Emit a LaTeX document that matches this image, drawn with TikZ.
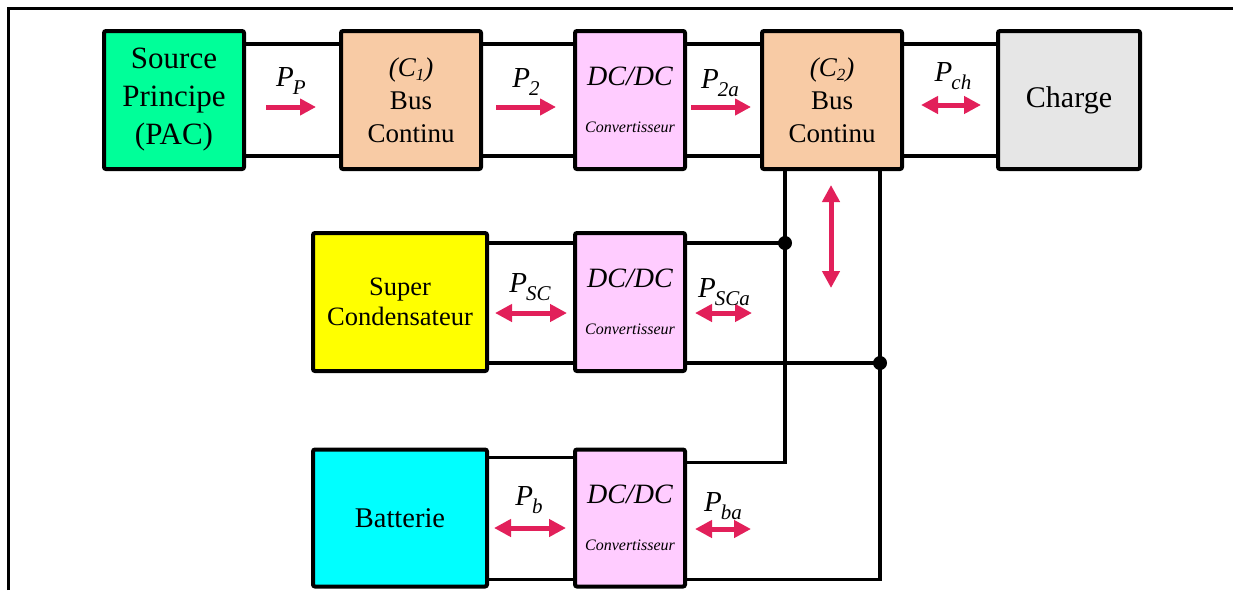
\documentclass[tikz,border=0pt]{standalone}
\usepackage{fontspec}
\setmainfont{Liberation Serif}
\usetikzlibrary{arrows.meta}
\definecolor{pacgreen}{RGB}{0,255,153}
\definecolor{buspeach}{RGB}{248,203,165}
\definecolor{convpink}{RGB}{255,204,255}
\definecolor{loadgray}{RGB}{230,230,230}
\definecolor{scyellow}{RGB}{255,255,0}
\definecolor{batcyan}{RGB}{0,255,255}
\definecolor{flowred}{RGB}{226,32,90}
\newcommand{\pflow}[2]{{\fontsize{29}{29}\selectfont\itshape #1}\kern-1pt\raisebox{-8pt}{\fontsize{21}{21}\selectfont\itshape #2}}
\newcommand{\busname}[1]{{\itshape (C\raisebox{-4pt}{\fontsize{17}{17}\selectfont #1})}}
\tikzset{
  blk/.style={draw, line width=4pt, rounded corners=2pt, minimum width=140pt, minimum height=138pt, align=center, inner sep=0pt},
  busblk/.style={blk, fill=buspeach, font=\fontsize{27}{33}\selectfont},
  convblk/.style={blk, fill=convpink, minimum width=110pt, font=\itshape\fontsize{28}{30}\selectfont},
  wire/.style={line width=3.5pt},
  flow/.style={flowred, line width=5pt, -{Triangle[length=16pt,width=16pt]}},
  bflow/.style={flowred, line width=5pt, {Triangle[length=17pt,width=17pt]}-{Triangle[length=17pt,width=17pt]}},
}
\begin{document}
\begin{tikzpicture}[x=1pt, y=-1pt]
  \useasboundingbox (0,0) rectangle (1233,590);
  \draw[line width=3pt] (8,590) -- (8,8) -- (1233,8);

  % top chain
  \node[blk, fill=pacgreen, font=\fontsize{31}{38}\selectfont] (src) at (174,100) {Source\\Principe\\(PAC)};
  \node[busblk] (c1) at (411,100) {\busname{1}\\Bus\\Continu};
  \node[convblk] (dc1) at (630,100) {DC/DC\\[17pt]{\fontsize{16}{16}\selectfont Convertisseur}};
  \node[busblk] (c2) at (832,100) {\busname{2}\\Bus\\Continu};
  \node[blk, fill=loadgray, minimum width=142pt, font=\fontsize{30}{31}\selectfont] (chg) at (1069,100) {Charge};

  % storage
  \node[blk, fill=scyellow, minimum width=174pt, font=\fontsize{26.5}{30}\selectfont] (sc) at (400,302) {Super\\Condensateur};
  \node[convblk] (dc2) at (630,302) {DC/DC\\[17pt]{\fontsize{16}{16}\selectfont Convertisseur}};
  \node[blk, fill=batcyan, minimum width=174pt, minimum height=137pt, font=\fontsize{28.5}{31}\selectfont] (bat) at (400,518) {Batterie};
  \node[convblk, minimum height=137pt] (dc3) at (630,518) {DC/DC\\[17pt]{\fontsize{16}{16}\selectfont Convertisseur}};

  \foreach \a/\b in {src/c1, c1/dc1, dc1/c2, c2/chg} {
    \draw[wire] ([yshift=-15pt]\a.north east) -- ([yshift=-15pt]\b.north west);
    \draw[wire] ([yshift=15pt]\a.south east) -- ([yshift=15pt]\b.south west);
  }
  \draw[wire] ([yshift=-12pt]sc.north east) -- ([yshift=-12pt]dc2.north west);
  \draw[wire] ([yshift=10pt]sc.south east) -- ([yshift=10pt]dc2.south west);
  \draw[wire] ([yshift=-10pt]bat.north east) -- ([yshift=-10pt]dc3.north west);
  \draw[wire] ([yshift=9pt]bat.south east) -- ([yshift=9pt]dc3.south west);

  % bus C2
  \coordinate (busL) at ([xshift=25pt]c2.south west);
  \coordinate (busR) at ([xshift=-24pt]c2.south east);
  \coordinate (d2t) at ([yshift=-12pt]dc2.north east);
  \coordinate (d2b) at ([yshift=10pt]dc2.south east);
  \coordinate (d3t) at ([yshift=-15pt]dc3.north east);
  \coordinate (d3b) at ([yshift=9pt]dc3.south east);
  \draw[wire] (d2t) -- (busL |- d2t);
  \draw[wire] (d2b) -- (busR |- d2b);
  \draw[wire] (busL) |- (d3t);
  \draw[wire] (busR) |- (d3b);
  \fill (busL |- d2t) circle (7pt);
  \fill (busR |- d2b) circle (7pt);

  % power flows
  \draw[flow] (266,107) -- (316,107);
  \draw[flow] (496,107) -- (556,107);
  \draw[flow] (691,107) -- (751,107);
  \draw[bflow] (921,105) -- (981,105);
  \draw[bflow] (831,185) -- (831,288);
  \draw[bflow] (495,313) -- (567,313);
  \draw[bflow] (695,313) -- (752,313);
  \draw[bflow] (494,528) -- (566,528);
  \draw[bflow] (695,529) -- (751,529);

  \node (lpp) at (291,81) {\pflow{P}{P}};
  \node (lp2) at (526,82) {\pflow{P}{2}};
  \node (lp2a) at (720,83) {\pflow{P}{2a}};
  \node (lpch) at (953,76) {\pflow{P}{ch}};
  \node (lpsc) at (530,287) {\pflow{P}{SC}};
  \node (lpsca) at (724,292) {\pflow{P}{SCa}};
  \node (lpb) at (529,500) {\pflow{P}{b}};
  \node (lpba) at (723,506) {\pflow{P}{ba}};
\end{tikzpicture}
\end{document}
